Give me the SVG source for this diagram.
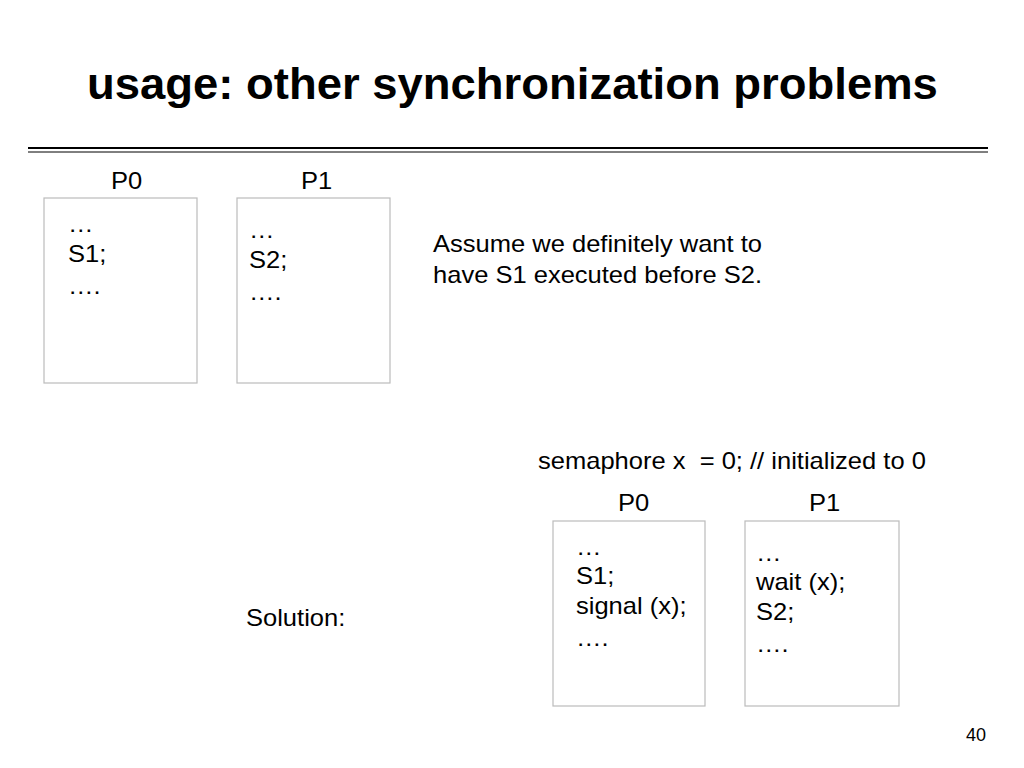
<svg xmlns="http://www.w3.org/2000/svg" width="1024" height="768" viewBox="0 0 1024 768">
<style>
.t{font-family:"Liberation Sans",Arial,sans-serif;font-size:23px;fill:#000}
.box{fill:#fff;stroke:#bbb;stroke-width:1.2}
.title{font-family:"Liberation Sans",Arial,sans-serif;font-size:44px;font-weight:bold;fill:#000}
</style>
<rect width="1024" height="768" fill="#fff"/>
<text class="title" transform="translate(87 99) scale(1.033 1)">usage: other synchronization problems</text>
<line x1="28" y1="148" x2="988" y2="148" stroke="#000" stroke-width="2"/>
<line x1="28" y1="152" x2="988" y2="152" stroke="#000" stroke-width="1"/>
<g id="p0-top">
<text class="t" transform="translate(111 189) scale(1.11 1)">P0</text>
<rect class="box" x="44" y="198" width="153" height="185"/>
<text class="t" transform="translate(68 232) scale(1.11 1)">…</text>
<text class="t" transform="translate(68 262) scale(1.11 1)">S1;</text>
<text class="t" transform="translate(68 294) scale(1.11 1)">….</text>
</g>
<g id="p1-top">
<text class="t" transform="translate(301 189) scale(1.11 1)">P1</text>
<rect class="box" x="237" y="198" width="153" height="185"/>
<text class="t" transform="translate(249 238) scale(1.11 1)">…</text>
<text class="t" transform="translate(249 268) scale(1.11 1)">S2;</text>
<text class="t" transform="translate(249 300) scale(1.11 1)">….</text>
</g>
<g id="assume">
<text class="t" transform="translate(433 252) scale(1.11 1)">Assume we definitely want to</text>
<text class="t" transform="translate(433 283) scale(1.11 1)">have S1 executed before S2.</text>
</g>
<g id="semaphore">
<text class="t" transform="translate(538 469) scale(1.11 1)" xml:space="preserve">semaphore x  = 0; // initialized to 0</text>
</g>
<g id="p0-bottom">
<text class="t" transform="translate(618 511) scale(1.11 1)">P0</text>
<rect class="box" x="553" y="521" width="152" height="185"/>
<text class="t" transform="translate(576 555) scale(1.11 1)">…</text>
<text class="t" transform="translate(576 584) scale(1.11 1)">S1;</text>
<text class="t" transform="translate(576 614) scale(1.11 1)">signal (x);</text>
<text class="t" transform="translate(576 646) scale(1.11 1)">….</text>
</g>
<g id="p1-bottom">
<text class="t" transform="translate(809 511) scale(1.11 1)">P1</text>
<rect class="box" x="745" y="521" width="154" height="185"/>
<text class="t" transform="translate(756 561) scale(1.11 1)">…</text>
<text class="t" transform="translate(756 590) scale(1.11 1)">wait (x);</text>
<text class="t" transform="translate(756 620) scale(1.11 1)">S2;</text>
<text class="t" transform="translate(756 652) scale(1.11 1)">….</text>
</g>
<g id="solution">
<text class="t" transform="translate(246 626) scale(1.11 1)">Solution:</text>
</g>
<g id="connectors"></g>
<text x="966" y="741" style="font-family:'Liberation Sans',Arial,sans-serif;font-size:18px">40</text>
</svg>
